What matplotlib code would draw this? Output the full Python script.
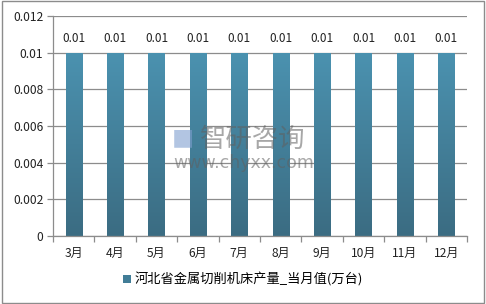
import numpy as np
import matplotlib
matplotlib.use("Agg")
import matplotlib.pyplot as plt
from matplotlib.colors import LinearSegmentedColormap
from matplotlib.patches import Rectangle

plt.rcParams['font.family'] = ['Noto Sans CJK SC', 'DejaVu Sans']

months = ["3月", "4月", "5月", "6月", "7月", "8月", "9月", "10月", "11月", "12月"]
values = [0.01, 0.01, 0.01, 0.01, 0.01, 0.01, 0.01, 0.01, 0.01, 0.01]
labels = ["0.01"] * len(values)
series_name = "河北省金属切削机床产量_当月值(万台)"

top_c = "#4b92b0"
bot_c = "#3b6c82"
cmap = LinearSegmentedColormap.from_list("bar", [bot_c, top_c])

fig = plt.figure(figsize=(4.86, 3.04), dpi=100)
fig.patches.append(Rectangle((0.004, 0.004), 0.992, 0.992, transform=fig.transFigure,
                             fill=False, edgecolor="#8c8c8c", linewidth=1.0))
ax = fig.add_axes([0.109, 0.224, 0.852, 0.723])

x = np.arange(len(months))
width = 0.39
bars = ax.bar(x, values, width=width, color=top_c, zorder=2, label=series_name)
grad = np.linspace(0, 1, 256).reshape(-1, 1)
for b in bars:
    b.set_facecolor("none")
    x0, y0 = b.get_x(), b.get_y()
    im = ax.imshow(grad, cmap=cmap, origin="lower", aspect="auto",
                   extent=[x0, x0 + b.get_width(), y0, y0 + b.get_height()], zorder=2)
    im.set_clip_path(b)

for xi, v, lab in zip(x, values, labels):
    ax.text(xi, v + 0.00045, lab, ha="center", va="bottom", fontsize=8.5, color="#222222")

ax.set_xlim(-0.5, len(months) - 0.5)
ax.set_ylim(0, 0.012)
ax.set_yticks([0, 0.002, 0.004, 0.006, 0.008, 0.01, 0.012])
ax.set_yticklabels(["0", "0.002", "0.004", "0.006", "0.008", "0.01", "0.012"])
ax.yaxis.grid(True, color="#8c8c8c", linewidth=0.9, zorder=0)
ax.set_axisbelow(True)

ax.set_xticks(x)
ax.set_xticklabels(months)
ax.set_xticks(np.arange(-0.5, len(months), 1), minor=True)
ax.tick_params(axis="x", which="major", length=0, pad=8, labelsize=8.7, colors="#222222")
ax.tick_params(axis="x", which="minor", length=4, color="#8c8c8c", width=0.9)
ax.tick_params(axis="y", length=4, color="#8c8c8c", width=0.9, pad=3,
               labelsize=8.7, labelcolor="#222222")

for s in ["top", "right"]:
    ax.spines[s].set_visible(False)
ax.spines["left"].set_color("#8c8c8c")
ax.spines["bottom"].set_color("#8c8c8c")
ax.spines["left"].set_linewidth(0.9)
ax.spines["bottom"].set_linewidth(0.9)

handle = Rectangle((0, 0), 1, 1, facecolor="#417d97")
fig.legend([handle], [series_name], loc="center", bbox_to_anchor=(0.5, 0.08),
           frameon=False, fontsize=9.5, handlelength=0.6, handleheight=0.6,
           handletextpad=0.3)

# watermark
fig.text(0.52, 0.54, "智研咨询", ha="center", va="center", fontsize=19,
         color="#606060", alpha=0.55, zorder=5)
fig.text(0.377, 0.54, "■", ha="center", va="center", fontsize=16,
         color="#7f9fcf", alpha=0.6, zorder=5)
fig.text(0.502, 0.463, "www.chyxx.com", ha="center", va="center", fontsize=12.5,
         color="#606060", alpha=0.55, zorder=5, family="DejaVu Sans")

fig.savefig("out.png", dpi=100)
